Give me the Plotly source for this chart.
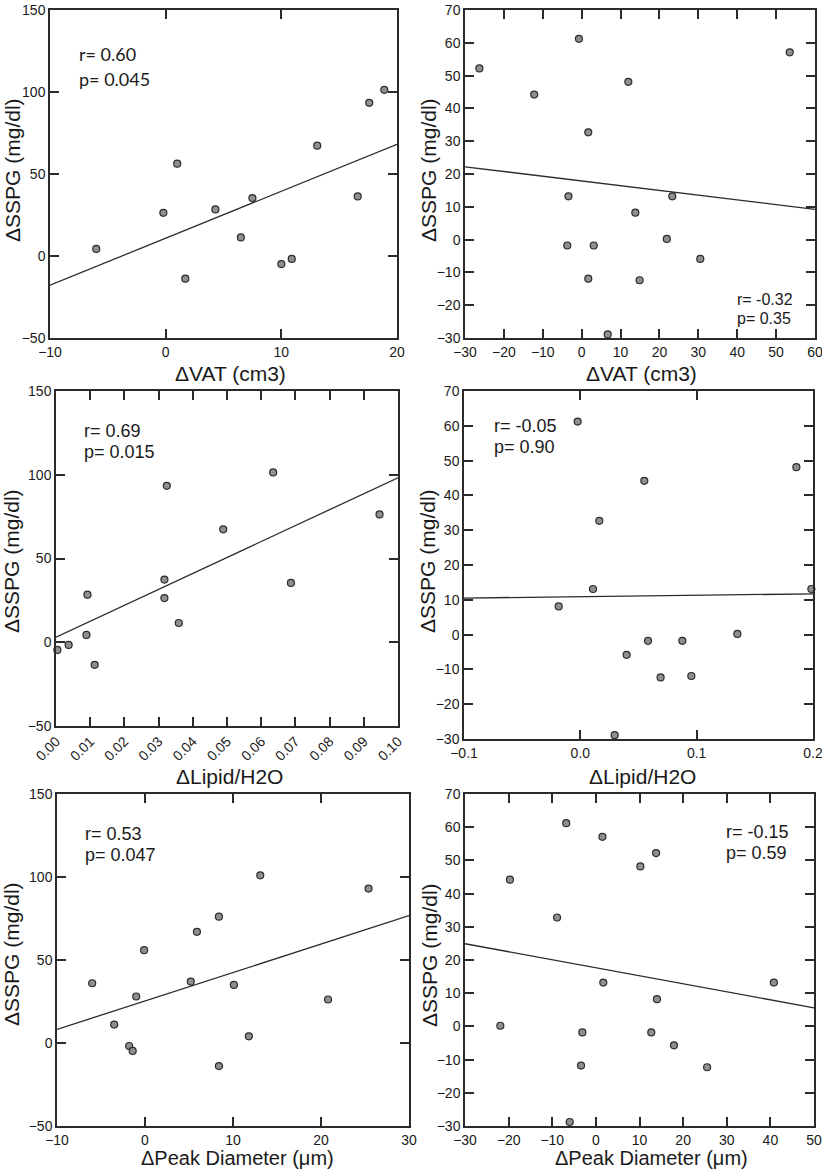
import plotly.graph_objects as go

W, H = 822, 1171

# ---------------- data ----------------
vat_x = [-6.0, -0.2, 1.0, 1.7, 4.3, 6.5, 7.5, 10.0, 10.9, 13.1, 16.6, 17.6, 18.9]
vat_y = [4.3, 26.3, 56.3, -13.8, 28.4, 11.3, 35.3, -4.9, -1.8, 67.3, 36.3, 93.4, 101.3]

vat2_x = [-26.3, -12.2, -0.7, 1.7, -3.4, -3.7, 3.1, 1.7, 6.7, 12.0, 13.8, 14.9, 21.9, 23.3, 30.5, 53.5]
vat2_y = [52.2, 44.2, 61.2, 32.7, 13.2, -1.8, -1.8, -11.9, -28.9, 48.1, 8.2, -12.4, 0.2, 13.2, -5.9, 57.1]

lipid_x = [0.0004, 0.0037, 0.0089, 0.0092, 0.0113, 0.0317, 0.0317, 0.0324, 0.0359, 0.0489, 0.0635, 0.0687, 0.0946]
lipid_y = [-4.6, -1.6, 4.4, 28.4, -13.5, 37.4, 26.4, 93.4, 11.5, 67.4, 101.4, 35.4, 76.3]

lipid2_x = [-0.0023, -0.0186, 0.0109, 0.0163, 0.055, 0.0398, 0.0582, 0.069, 0.0877, 0.0954, 0.0295, 0.135, 0.1857, 0.1986]
lipid2_y = [61.2, 8.1, 13.1, 32.7, 44.2, -5.8, -1.8, -12.3, -1.8, -11.9, -28.9, 0.2, 48.1, 13.1]

peak_x = [-6.0, -3.5, -1.8, -1.4, -1.0, -0.1, 5.2, 5.9, 8.4, 8.4, 10.1, 11.8, 13.1, 20.8, 25.4]
peak_y = [36.0, 11.1, -1.8, -4.8, 28.0, 55.9, 37.0, 67.0, 76.1, -13.9, 35.0, 4.0, 101.0, 26.2, 93.0]

peak2_x = [-21.9, -19.7, -8.9, -6.8, -6.0, -3.4, -3.1, 1.5, 1.7, 10.2, 12.7, 13.8, 14.0, 17.9, 25.5, 40.8]
peak2_y = [0.2, 44.2, 32.8, 61.2, -28.8, -11.8, -1.8, 57.1, 13.2, 48.2, -1.8, 52.2, 8.2, -5.7, -12.3, 13.2]

# regression lines (values read at the x-axis ends)
fit_vat_x, fit_vat_y = [-10, 20], [-17.8, 68.1]
fit_vat2_x, fit_vat2_y = [-30, 60], [22.2, 9.2]
fit_lipid_x, fit_lipid_y = [0.0, 0.1], [3.0, 98.2]
fit_lipid2_x, fit_lipid2_y = [-0.1, 0.2], [10.5, 11.7]
fit_peak_x, fit_peak_y = [-10, 30], [8.2, 76.7]
fit_peak2_x, fit_peak2_y = [-30, 50], [24.9, 5.6]

stats_r = ["r= 0.60", "r= -0.32", "r= 0.69", "r= -0.05", "r= 0.53", "r= -0.15"]
stats_p = ["p= 0.045", "p= 0.35", "p= 0.015", "p= 0.90", "p= 0.047", "p= 0.59"]

# tick values of each x axis
xticks_vat = [-10, 0, 10, 20]
xticks_vat2 = [-30, -20, -10, 0, 10, 20, 30, 40, 50, 60]
xticks_lipid = [0.00, 0.01, 0.02, 0.03, 0.04, 0.05, 0.06, 0.07, 0.08, 0.09, 0.10]
xticks_lipid2 = [-0.1, 0.0, 0.1, 0.2]
xticks_peak = [-10, 0, 10, 20, 30]
xticks_peak2 = [-30, -20, -10, 0, 10, 20, 30, 40, 50]
yticks_a = [-50, 0, 50, 100, 150]
yticks_b = [-30, -20, -10, 0, 10, 20, 30, 40, 50, 60, 70]

x_titles = ["\u0394VAT (cm3)", "\u0394VAT (cm3)", "\u0394Lipid/H2O", "\u0394Lipid/H2O",
            "\u0394Peak Diameter (\u03bcm)", "\u0394Peak Diameter (\u03bcm)"]
y_title = "\u0394SSPG (mg/dl)"

# ---------------- layout helpers ----------------
# panel pixel boxes: (left, right, top, bottom)
boxes = [
    (50, 397, 10, 338),
    (465, 815, 10, 338),
    (56, 398, 391, 726),
    (464, 813, 391, 739),
    (57, 409, 794, 1126),
    (465, 814, 794, 1126),
]

x_ranges = [[-10, 20], [-30, 60], [0, 0.1], [-0.1, 0.2], [-10, 30], [-30, 50]]
x_tickvals = [xticks_vat, xticks_vat2, xticks_lipid, xticks_lipid2, xticks_peak, xticks_peak2]
x_formats = ["", "", ".2f", ".1f", "", ""]
x_angles = [0, 0, -45, 0, 0, 0]
y_ranges = [[-50, 150], [-30, 70], [-50, 150], [-30, 70], [-50, 150], [-30, 70]]
y_tickvals = [yticks_a, yticks_b, yticks_a, yticks_b, yticks_a, yticks_b]

# stat text positions (pixel, left-anchored, middle)
stat_pos = [
    ((77, 54), (77, 79)),
    ((735, 300), (735, 319)),
    ((82, 431), (82, 452)),
    ((492, 426), (492, 447)),
    ((83, 834), (83, 855)),
    ((724, 832), (724, 853)),
]
# axis title centres (pixel)
xtitle_pos = [(230, 373), (641, 373), (229, 776), (642, 776), (238, 1158), (651, 1158)]
ytitle_pos = [(12, 170), (428, 170), (11, 561), (427, 561), (11, 954), (429, 955)]
xtitle_size = [21, 21, 21, 21, 20, 20]

series = [
    (vat_x, vat_y, fit_vat_x, fit_vat_y),
    (vat2_x, vat2_y, fit_vat2_x, fit_vat2_y),
    (lipid_x, lipid_y, fit_lipid_x, fit_lipid_y),
    (lipid2_x, lipid2_y, fit_lipid2_x, fit_lipid2_y),
    (peak_x, peak_y, fit_peak_x, fit_peak_y),
    (peak2_x, peak2_y, fit_peak2_x, fit_peak2_y),
]

FONT = "Liberation Sans, Arial, sans-serif"
LINE = "#2b2b2b"
TXT = "#1a1a1a"

fig = go.Figure()
annotations = []
layout = dict(
    width=W, height=H, margin=dict(l=0, r=0, t=0, b=0, autoexpand=False),
    paper_bgcolor="white", plot_bgcolor="white", showlegend=False,
    font=dict(family=FONT, color=TXT),
)


def px(xp, yp):
    return xp / W, 1 - yp / H


for i, (sx, sy, fx, fy) in enumerate(series):
    n = i + 1
    xa = "x" if n == 1 else f"x{n}"
    ya = "y" if n == 1 else f"y{n}"
    l, r, t, b = boxes[i]
    fig.add_trace(go.Scatter(x=fx, y=fy, mode="lines", xaxis=xa, yaxis=ya,
                             line=dict(color=LINE, width=1.3), hoverinfo="skip"))
    fig.add_trace(go.Scatter(x=sx, y=sy, mode="markers", xaxis=xa, yaxis=ya,
                             cliponaxis=False,
                             marker=dict(size=7, color="#8f8f8f",
                                         line=dict(color="#2b2b2b", width=1.2))))
    xkey = "xaxis" if n == 1 else f"xaxis{n}"
    ykey = "yaxis" if n == 1 else f"yaxis{n}"
    layout[xkey] = dict(
        domain=[l / W, r / W], anchor=ya, range=x_ranges[i], automargin=False,
        tickmode="array", tickvals=x_tickvals[i], tickformat=x_formats[i],
        tickangle=x_angles[i], ticklabeloverflow="allow",
        showline=True, mirror="ticks", linecolor=LINE, linewidth=1.5,
        ticks="inside", ticklen=9, tickwidth=1.5, tickcolor=LINE,
        showgrid=False, zeroline=False,
        tickfont=dict(family=FONT, size=14, color=TXT),
    )
    layout[ykey] = dict(
        domain=[1 - b / H, 1 - t / H], anchor=xa, range=y_ranges[i], automargin=False,
        tickmode="array", tickvals=y_tickvals[i], ticklabeloverflow="allow",
        showline=True, mirror="ticks", linecolor=LINE, linewidth=1.5,
        ticks="inside", ticklen=9, tickwidth=1.5, tickcolor=LINE,
        showgrid=False, zeroline=False,
        tickfont=dict(family=FONT, size=14, color=TXT),
    )
    # axis titles
    tx, ty = px(*xtitle_pos[i])
    annotations.append(dict(text=x_titles[i], xref="paper", yref="paper", x=tx, y=ty,
                            xanchor="center", yanchor="middle", showarrow=False,
                            font=dict(family=FONT, size=xtitle_size[i], color=TXT)))
    tx, ty = px(*ytitle_pos[i])
    annotations.append(dict(text=y_title, xref="paper", yref="paper", x=tx, y=ty,
                            xanchor="center", yanchor="middle", showarrow=False,
                            textangle=-90,
                            font=dict(family=FONT, size=21, color=TXT)))
    # statistics
    (rx, ry), (qx, qy) = stat_pos[i]
    sfont = dict(family=("Lato, " + FONT) if i == 0 else FONT,
                 size=18 if i != 1 else 16, color=TXT)
    for txt, (ax_, ay_) in ((stats_r[i], (rx, ry)), (stats_p[i], (qx, qy))):
        sx_, sy_ = px(ax_, ay_)
        annotations.append(dict(text=txt, xref="paper", yref="paper",
                                x=sx_, y=sy_, xanchor="left", yanchor="middle",
                                showarrow=False, font=sfont))

layout["annotations"] = annotations
fig.update_layout(**layout)
fig.write_html(
    "out.html",
    config={"displayModeBar": False},
    post_script="document.body.style.margin='0';document.body.style.overflow='hidden';",
)
